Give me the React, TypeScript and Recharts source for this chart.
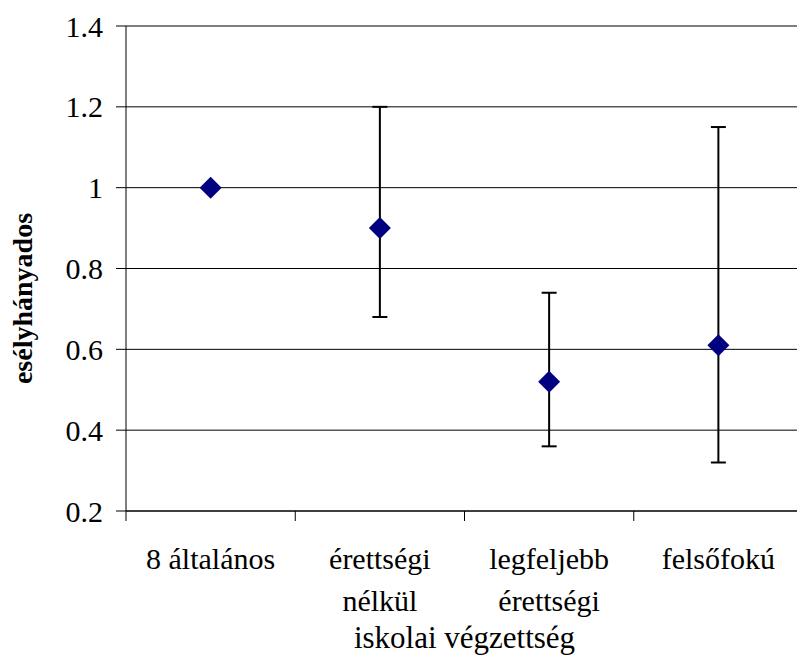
import React from "react";
import {
  CartesianGrid,
  ComposedChart,
  ErrorBar,
  Label,
  Line,
  XAxis,
  YAxis,
} from "recharts";

const FONT = '"Liberation Serif", "Times New Roman", serif';

// "\n" marks where a category label wraps
const CATEGORIES = ["8 általános", "érettségi\nnélkül", "legfeljebb\nérettségi", "felsőfokú"];
const ODDS = [1.0, 0.9, 0.52, 0.61];
const LOWER = [1.0, 0.68, 0.36, 0.32];
const UPPER = [1.0, 1.2, 0.74, 1.15];
const Y_TICKS = [0.2, 0.4, 0.6, 0.8, 1, 1.2, 1.4];

const data = CATEGORIES.map((name, i) => ({
  x: i + 0.5,
  name,
  odds: ODDS[i],
  err: [ODDS[i] - LOWER[i], UPPER[i] - ODDS[i]],
}));

// boundaries get a tick mark, band centres get the label
const X_TICKS = Array.from({ length: CATEGORIES.length * 2 + 1 }, (_, k) => k / 2);

function CategoryTick({ x, y, payload }: any) {
  const v = payload.value;
  if (Number.isInteger(v)) {
    return <line x1={x} x2={x} y1={y} y2={y + 10} stroke="#000" strokeWidth={1} />;
  }
  const lines = CATEGORIES[Math.floor(v)].split("\n");
  return (
    <text textAnchor="middle" fontFamily={FONT} fontSize={30} fill="#000">
      {lines.map((line, i) => (
        <tspan key={i} x={x} y={y + 58 + i * 42}>
          {line}
        </tspan>
      ))}
    </text>
  );
}

function Diamond({ cx, cy }: any) {
  if (cx == null || cy == null) return null;
  const r = 11;
  return (
    <polygon
      points={`${cx},${cy - r} ${cx + r},${cy} ${cx},${cy + r} ${cx - r},${cy}`}
      fill="#000080"
    />
  );
}

function YTitle({ viewBox }: any) {
  const cy = viewBox.y + viewBox.height / 2 + 30;
  return (
    <text
      x={22}
      y={cy}
      transform={`rotate(-90, 22, ${cy})`}
      textAnchor="middle"
      dominantBaseline="central"
      fontFamily={FONT}
      fontSize={28}
      fontWeight="bold"
      fill="#000"
    >
      esélyhányados
    </text>
  );
}

export default function App() {
  return (
    <div
      style={{
        position: "absolute",
        left: 0,
        top: 0,
        width: 797,
        height: 668,
        overflow: "hidden",
        background: "#fff",
      }}
    >
      <ComposedChart
        width={810}
        height={668}
        data={data}
        margin={{ top: 26, right: 7, bottom: 0, left: 0 }}
      >
        <CartesianGrid vertical={false} stroke="#000" strokeWidth={1} />
        <XAxis
          dataKey="x"
          type="number"
          domain={[0, CATEGORIES.length]}
          ticks={X_TICKS}
          interval={0}
          tick={<CategoryTick />}
          tickLine={false}
          tickSize={0}
          tickMargin={0}
          axisLine={{ stroke: "#000", strokeWidth: 1 }}
          height={157}
        >
          <Label
            value="iskolai végzettség"
            position="insideBottom"
            offset={20}
            style={{ fontFamily: FONT, fontSize: 31, fill: "#000" }}
          />
        </XAxis>
        <YAxis
          type="number"
          domain={[0.2, 1.4]}
          ticks={Y_TICKS}
          interval={0}
          width={126}
          tickSize={10}
          tickMargin={13}
          tickLine={{ stroke: "#000" }}
          axisLine={{ stroke: "#000", strokeWidth: 1 }}
          tick={{ fontFamily: FONT, fontSize: 30, fill: "#000" }}
          label={<YTitle />}
        />
        <Line
          dataKey="odds"
          stroke="none"
          dot={<Diamond />}
          activeDot={false}
          isAnimationActive={false}
        >
          <ErrorBar dataKey="err" direction="y" width={7.5} stroke="#000" strokeWidth={2} />
        </Line>
      </ComposedChart>
    </div>
  );
}
